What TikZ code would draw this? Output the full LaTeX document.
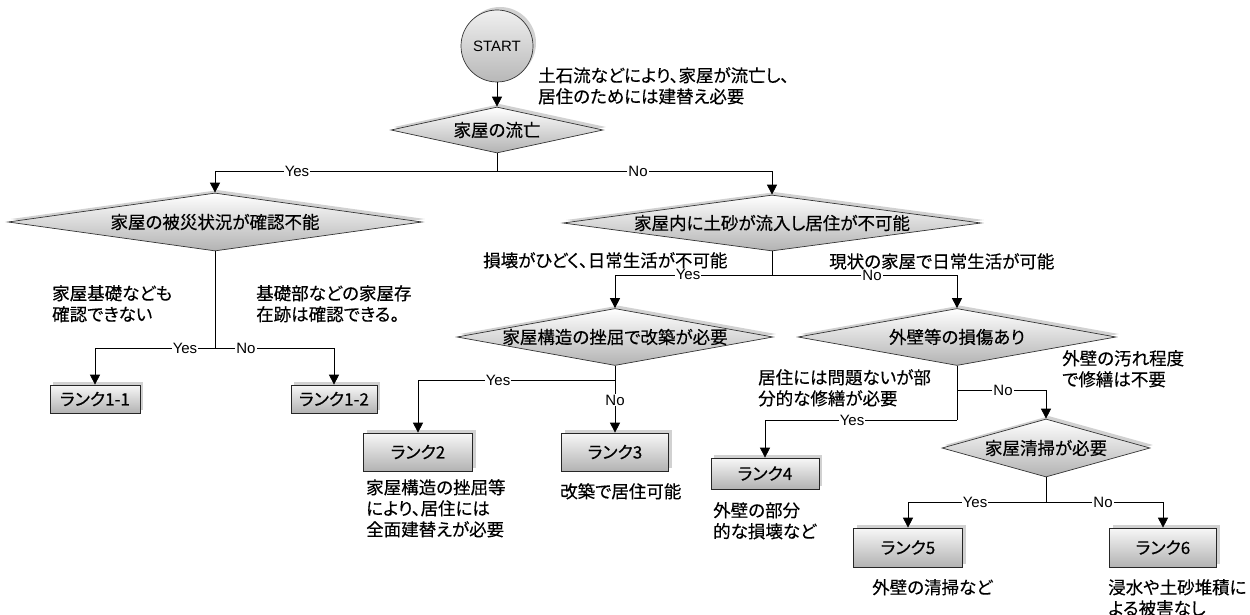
\documentclass[tikz,border=0pt]{standalone}
\usepackage{fontspec}
\setmainfont{Liberation Sans}
\newfontfamily\jp[RawFeature=+palt,FakeBold=0.35]{Noto Sans CJK JP}
\usetikzlibrary{shapes.geometric,arrows.meta,shadows}
\newcommand\mkz[1]{\makebox[0pt][c]{#1}}
\begin{document}
\begin{tikzpicture}[x=1pt,y=-1pt,
  line/.style={draw=black, line width=0.8pt},
  arr/.style={line, -{Triangle[length=10pt,width=10pt]}},
  shad/.style={general shadow={fill=black!18, shadow xshift=3pt, shadow yshift=3pt}},
  dia/.style={diamond, draw=black!80, line width=0.7pt, inner sep=0pt, shad,
    top color=white, bottom color=black!30, font=\jp\fontsize{17.5}{21}\selectfont},
  rank/.style={rectangle, draw=black!85, line width=0.7pt, inner sep=0pt, shad,
    top color=black!3, bottom color=black!30, font=\jp\fontsize{17}{20}\selectfont},
  note/.style={anchor=north west, align=left, inner sep=0pt, font=\jp\fontsize{17.5}{21}\selectfont},
  yn/.style={fill=white, inner sep=1pt, font=\fontsize{15}{18}\selectfont},
]
\useasboundingbox (0,0) rectangle (1250,615);

% start
\node[circle, minimum size=72pt, draw=black!80, line width=0.7pt, shad,
  top color=black!6, bottom color=black!28, font=\fontsize{15}{18}\selectfont] (start) at (497,46) {START};

% decisions
\node[dia, minimum width=212pt, minimum height=46pt] (d1) at (497,130) {\mkz{家屋の流亡}};
\node[dia, minimum width=414pt, minimum height=58pt] (d2) at (215,222) {\mkz{家屋の被災状況が確認不能}};
\node[dia, minimum width=418pt, minimum height=56pt] (d3) at (772,223) {\mkz{家屋内に土砂が流入し居住が不可能}};
\node[dia, minimum width=316pt, minimum height=57pt] (d4) at (615,337) {\mkz{家屋構造の挫屈で改築が必要}};
\node[dia, minimum width=318pt, minimum height=57pt] (d5) at (957,337) {\mkz{外壁等の損傷あり}};
\node[dia, minimum width=208pt, minimum height=58pt] (d6) at (1046,448) {\mkz{家屋清掃が必要}};

% ranks
\node[rank, minimum width=90pt, minimum height=28pt] (r11) at (95,399) {ランク1-1};
\node[rank, minimum width=86pt, minimum height=28pt] (r12) at (334,399) {ランク1-2};
\node[rank, minimum width=109pt, minimum height=38pt] (r2) at (418,452) {ランク2};
\node[rank, minimum width=107pt, minimum height=38pt] (r3) at (615,452) {ランク3};
\node[rank, minimum width=108pt, minimum height=31pt] (r4) at (765,473.5) {ランク4};
\node[rank, minimum width=109pt, minimum height=39pt] (r5) at (908,547.5) {ランク5};
\node[rank, minimum width=107pt, minimum height=39pt] (r6) at (1163,547.5) {ランク6};

% junctions
\coordinate (j1) at (497,171);
\coordinate (j2) at (215,348);
\coordinate (j3) at (772,275);
\coordinate (j4) at (615,380);
\coordinate (j5a) at (957,390);
\coordinate (j5b) at (957,420);
\coordinate (j6) at (1046,502);

% connectors
\draw[arr] (start) -- (d1);
\draw[line] (d1.south) -- (j1);
\draw[arr] (j1) -| (d2.north);
\draw[arr] (j1) -| (d3.north);
\draw[line] (d2.south) -- (j2);
\draw[arr] (j2) -| (r11.north);
\draw[arr] (j2) -| (r12.north);
\draw[line] (d3.south) -- (j3);
\draw[arr] (j3) -| (d4.north);
\draw[arr] (j3) -| (d5.north);
\draw[line] (d4.south) -- (j4);
\draw[arr] (j4) -| (r2.north);
\draw[arr] (j4) -- (r3.north);
\draw[line] (d5.south) -- (j5b);
\draw[arr] (j5b) -| (r4.north);
\draw[arr] (j5a) -| (d6.north);
\draw[line] (d6.south) -- (j6);
\draw[arr] (j6) -| (r5.north);
\draw[arr] (j6) -| (r6.north);

% yes/no labels
\node[yn] (y1) at (297,171) {Yes};
\node[yn] (n1) at (638,171) {No};
\node[yn] (y2) at (185,348) {Yes};
\node[yn] (n2) at (246,348) {No};
\node[yn] (y3) at (688,274) {Yes};
\node[yn] (n3) at (872,275) {No};
\node[yn] (y4) at (498,380) {Yes};
\node[yn] (n4) at (615,400) {No};
\node[yn] (n5) at (1003,390) {No};
\node[yn] (y5) at (852,420) {Yes};
\node[yn] (y6) at (975,502) {Yes};
\node[yn] (n6) at (1103,502) {No};

% notes
\node[note] (a0) at (538,67) {土石流などにより、家屋が流亡し、\\居住のためには建替え必要};
\node[note] (a1) at (52,285) {家屋基礎なども\\確認できない};
\node[note] (a2) at (256,285) {基礎部などの家屋存\\在跡は確認できる。};
\node[note] (a3) at (483,252) {損壊がひどく、日常生活が不可能};
\node[note] (a4) at (829,253) {現状の家屋で日常生活が可能};
\node[note] (a5) at (758,369) {居住には問題ないが部\\分的な修繕が必要};
\node[note] (a6) at (1062,350) {外壁の汚れ程度\\で修繕は不要};
\node[note] (a7) at (366,479) {家屋構造の挫屈等\\により、居住には\\全面建替えが必要};
\node[note] (a8) at (560,483) {改築で居住可能};
\node[note] (a9) at (713,502) {外壁の部分\\的な損壊など};
\node[note] (a10) at (872,579) {外壁の清掃など};
\node[note] (a11) at (1108,579) {浸水や土砂堆積に\\よる被害なし};
\end{tikzpicture}
\end{document}
